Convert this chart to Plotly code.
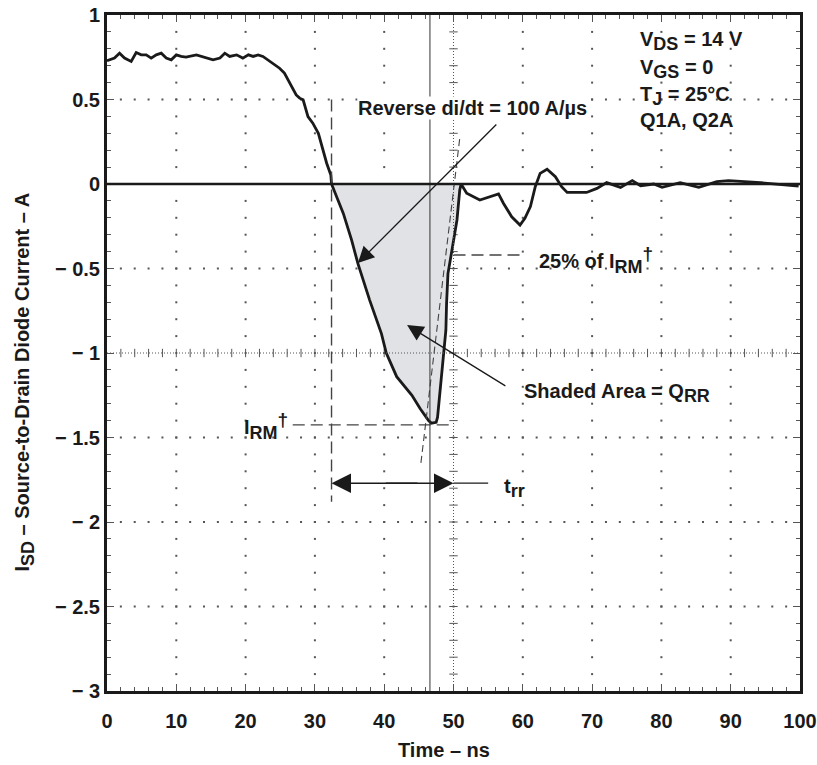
import numpy as np
import plotly.graph_objects as go

# ---------------- data ----------------
time_ns = [0.0, 0.36, 1.08, 1.81, 2.53, 3.49, 4.21, 4.94, 5.66, 6.38, 7.11, 7.83, 8.55, 9.27,
           10.0, 10.7, 11.4, 12.9, 14.3, 15.3, 16.3, 17.0, 17.7, 18.7, 19.6, 20.4, 21.1, 21.8,
           22.5, 23.2, 23.9, 24.9, 25.6, 26.4, 27.3, 27.8, 28.3, 29.0, 29.7, 30.5, 30.9, 31.7,
           32.3, 32.4,
           34.1, 35.3, 36.2, 37.9, 39.6, 40.3, 41.8, 44.0, 45.2, 46.4, 46.8, 47.5, 47.7, 48.0,
           48.4, 48.6, 48.9, 49.0, 49.2, 49.7, 50.5, 50.9, 51.1,
           51.9, 53.8, 56.5, 57.2, 58.4, 59.6, 60.3, 61.1, 61.8, 62.5, 63.5, 64.7, 65.6, 66.4,
           69.2, 70.7, 72.1, 74.1, 75.8, 77.0, 78.9, 80.1, 82.7, 85.4, 88.0, 89.7, 94.3, 99.8]
current_a = [0.73, 0.735, 0.745, 0.774, 0.745, 0.725, 0.778, 0.764, 0.764, 0.745, 0.764, 0.774, 0.745, 0.735,
             0.764, 0.755, 0.751, 0.764, 0.745, 0.735, 0.745, 0.774, 0.755, 0.764, 0.745, 0.764, 0.755, 0.764,
             0.755, 0.735, 0.715, 0.685, 0.656, 0.597, 0.527, 0.508, 0.498, 0.399, 0.360, 0.300, 0.241, 0.123,
             0.053, 0.0,
             -0.174, -0.332, -0.47, -0.687, -0.885, -1.0, -1.14, -1.25, -1.33, -1.40, -1.415, -1.41, -1.38, -1.26,
             -1.10, -1.0, -0.865, -0.707, -0.53, -0.41, -0.213, -0.036, 0.0,
             -0.055, -0.095, -0.059, -0.114, -0.194, -0.243, -0.203, -0.134, -0.016, 0.063, 0.087, 0.043, -0.016, -0.05,
             -0.05, -0.026, 0.008, -0.02, 0.02, -0.01, 0.0, -0.02, 0.008, -0.02, 0.014, 0.02, 0.008, -0.012]

x_tick_vals = [0, 10, 20, 30, 40, 50, 60, 70, 80, 90, 100]
x_tick_text = ["0", "10", "20", "30", "40", "50", "60", "70", "80", "90", "100"]
y_tick_vals = [1, 0.5, 0, -0.5, -1, -1.5, -2, -2.5, -3]
y_tick_text = ["1", "0.5", "0", "\u2212 0.5", "\u2212 1", "\u2212 1.5", "\u2212 2", "\u2212 2.5", "\u2212 3"]

# recovery characteristic markers (ns / A)
t_start = 32.4      # current crosses zero
t_peak = 46.6       # time of I_RM
t_rr_end = 50.0     # end of t_rr
i_rm = -1.425
i_25 = -0.42
trr_y = -1.77

FONT = "Liberation Sans, Arial, sans-serif"
INK = "#1a1a1a"
DOT = "#555555"
FS = 20

fig = go.Figure()

# ---------------- graticule dots ----------------
gx, gy = [], []
for xv in range(10, 100, 10):
    if xv == 50:
        continue
    for yv in np.round(np.arange(-2.9, 1.0, 0.1), 2):
        gx.append(xv); gy.append(yv)
for yv in [0.5, -0.5, -1.5, -2.0, -2.5]:
    for xv in range(2, 100, 2):
        gx.append(xv); gy.append(yv)
fig.add_trace(go.Scatter(x=gx, y=gy, mode="markers", hoverinfo="skip",
                         marker=dict(symbol="square", size=2, color=DOT, line=dict(width=0)),
                         showlegend=False))
# centre graticule cross-ticks
cy = list(np.round(np.arange(-2.9, 1.0, 0.1), 2))
fig.add_trace(go.Scatter(x=[50] * len(cy), y=cy, mode="markers", hoverinfo="skip",
                         marker=dict(symbol="line-ew", size=6, line=dict(width=1, color=DOT)),
                         showlegend=False))
cx = list(range(2, 100, 2))
fig.add_trace(go.Scatter(x=cx, y=[-1] * len(cx), mode="markers", hoverinfo="skip",
                         marker=dict(symbol="line-ns", size=6, line=dict(width=1, color=DOT)),
                         showlegend=False))
fig.add_shape(type="line", x0=50, x1=50, y0=-3, y1=1, line=dict(color=DOT, width=1, dash="1px,2px"))
fig.add_shape(type="line", x0=0, x1=100, y0=-1, y1=-1, line=dict(color=DOT, width=1, dash="1px,2px"))

# ---------------- shaded Q_RR area ----------------
sx = [t for t in time_ns if t_start <= t <= 51.1]
sy = [c for t, c in zip(time_ns, current_a) if t_start <= t <= 51.1]
fig.add_trace(go.Scatter(x=sx, y=sy, mode="lines", fill="toself", fillcolor="#e1e2e5",
                         line=dict(width=0), hoverinfo="skip", showlegend=False))

# ---------------- construction lines ----------------
DASH = dict(color="#444444", width=1.4, dash="12px,6px")
fig.add_shape(type="line", x0=t_start, x1=t_start, y0=0.5, y1=-1.88, line=DASH)
fig.add_shape(type="line", x0=26.8, x1=50.2, y0=i_rm, y1=i_rm, line=DASH)
fig.add_shape(type="line", x0=50.0, x1=60.0, y0=i_25, y1=i_25, line=DASH)
fig.add_shape(type="line", x0=45.3, x1=50.9, y0=-1.65, y1=0.27,
              line=dict(color="#444444", width=1.1, dash="7px,4px"))
fig.add_shape(type="line", x0=t_peak, x1=t_peak, y0=-3, y1=1, line=dict(color="#333333", width=1), layer="above")
fig.add_shape(type="line", x0=0, x1=100, y0=0, y1=0, line=dict(color=INK, width=2.5), layer="above")
fig.add_shape(type="line", x0=t_rr_end, x1=55.0, y0=trr_y, y1=trr_y, line=dict(color=INK, width=1.4))

# ---------------- waveform ----------------
fig.add_trace(go.Scatter(x=time_ns, y=current_a, mode="lines", line=dict(color=INK, width=2.8),
                         hoverinfo="skip", showlegend=False))

# ---------------- annotations ----------------
BF = dict(family=FONT, size=FS, color=INK, weight="bold")


def sub(s):
    return '<sub><span style="font-size:18px">%s</span></sub>' % s


def sup(s):
    return '<sup><span style="font-size:19px">%s</span></sup>' % s


def txt(x, y, s, xanchor="left", yanchor="middle", bg=None, size=FS):
    fig.add_annotation(x=x, y=y, xref="x", yref="y", text=s, showarrow=False,
                       xanchor=xanchor, yanchor=yanchor,
                       font=dict(family=FONT, size=size, color=INK, weight="bold"),
                       bgcolor=bg, borderpad=0)


def arrow(x_tip, y_tip, x_tail, y_tail, size=2.5, width=1.3):
    fig.add_annotation(x=x_tip, y=y_tip, ax=x_tail, ay=y_tail, xref="x", yref="y",
                       axref="x", ayref="y", text="", showarrow=True, arrowhead=2,
                       arrowsize=size, arrowwidth=width, arrowcolor=INK, standoff=0)


txt(76.7, 0.845, "V" + sub("DS") + " = 14 V")
txt(76.7, 0.679, "V" + sub("GS") + " = 0")
txt(76.7, 0.522, "T" + sub("J") + " = 25\u00b0C")
txt(76.7, 0.379, "Q1A, Q2A")

txt(52.8, 0.45, "Reverse di/dt = 100 A/\u00b5s", xanchor="center", bg="white")
arrow(36.2, -0.468, 56.4, 0.361)

txt(62.2, -0.45, "25% of I" + sub("RM") + sup("\u2020"))
txt(60.1, -1.235, "Shaded Area = Q" + sub("RR"))
arrow(43.3, -0.835, 57.7, -1.20)

txt(26.3, -1.43, "I" + sub("RM") + sup("\u2020"), xanchor="right")

txt(57.2, -1.80, "t" + sub("rr"))
arrow(t_start, trr_y, 45.0, trr_y, size=2.6, width=1.5)
arrow(t_rr_end, trr_y, 40.0, trr_y, size=2.6, width=1.5)

# axis titles
fig.add_annotation(xref="paper", yref="paper", x=-0.119, y=0.457, textangle=-90, showarrow=False,
                   text="I" + sub("SD") + " \u2013 Source-to-Drain Diode Current \u2013 A",
                   font=BF, xanchor="center", yanchor="middle")
fig.add_annotation(xref="x", yref="paper", x=48.6, y=-0.088, showarrow=False, text="Time \u2013 ns",
                   font=BF, xanchor="center", yanchor="middle")

axis_common = dict(showgrid=False, zeroline=False, showline=True, linewidth=3, linecolor=INK,
                   mirror="ticks", ticks="inside", ticklen=7, tickwidth=1, tickcolor=DOT,
                   automargin=False,
                   tickfont=dict(family=FONT, size=FS, color=INK, weight="bold"))
fig.update_xaxes(range=[0, 100], tickvals=x_tick_vals, ticktext=x_tick_text,
                 minor=dict(dtick=2, ticks="inside", ticklen=4, tickcolor=DOT, tickwidth=1),
                 ticklabelstandoff=10, **axis_common)
fig.update_yaxes(range=[-3, 1], tickvals=y_tick_vals, ticktext=y_tick_text,
                 minor=dict(dtick=0.1, ticks="inside", ticklen=4, tickcolor=DOT, tickwidth=1),
                 ticklabelstandoff=0, **axis_common)

fig.update_layout(width=817, height=765, margin=dict(l=107, r=17, t=15, b=74, autoexpand=False),
                  plot_bgcolor="white", paper_bgcolor="white", showlegend=False)

fig.write_html("out.html", config={"displayModeBar": False},
               post_script="document.body.style.margin='0';document.body.style.overflow='hidden';")
